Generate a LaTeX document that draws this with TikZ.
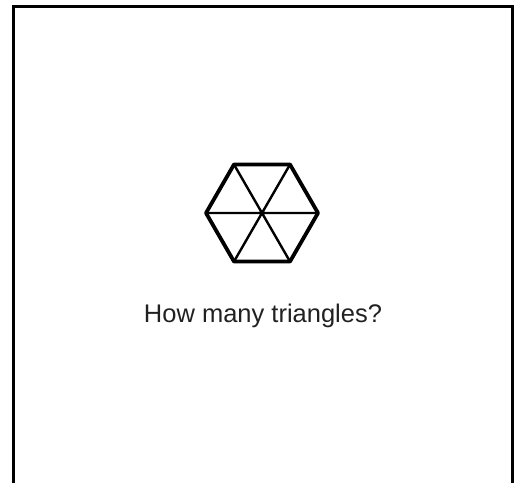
\documentclass[tikz,border=0pt]{standalone}
\usepackage{fontspec}
\setmainfont{Liberation Sans}
\usetikzlibrary{calc}
\begin{document}
\begin{tikzpicture}[x=1pt,y=-1pt,
  frame/.style={line width=3pt},
  hexedge/.style={line width=3.8pt,line join=round},
  spoke/.style={line width=2.4pt}]
\useasboundingbox (0,0) rectangle (517,483);
\coordinate (fbl) at (13,483);
\coordinate (ftl) at (13,6);
\coordinate (ftr) at (512,6);
\coordinate (fbr) at (512,483);
\draw[frame] (fbl) -- (ftl) -- (ftr) -- (fbr);
\coordinate (c) at (262,213);
\foreach \i in {0,...,5} {\coordinate (v\i) at ($(c)+(\i*60:56)$);}
\draw[spoke] (v0) -- (v3) (v1) -- (v4) (v2) -- (v5);
\draw[hexedge] (v0) -- (v1) -- (v2) -- (v3) -- (v4) -- (v5) -- cycle;
\node[font=\fontsize{25.5}{30}\selectfont,text=black!87,anchor=base] (q) at (263,322) {How many triangles?};
\end{tikzpicture}
\end{document}
